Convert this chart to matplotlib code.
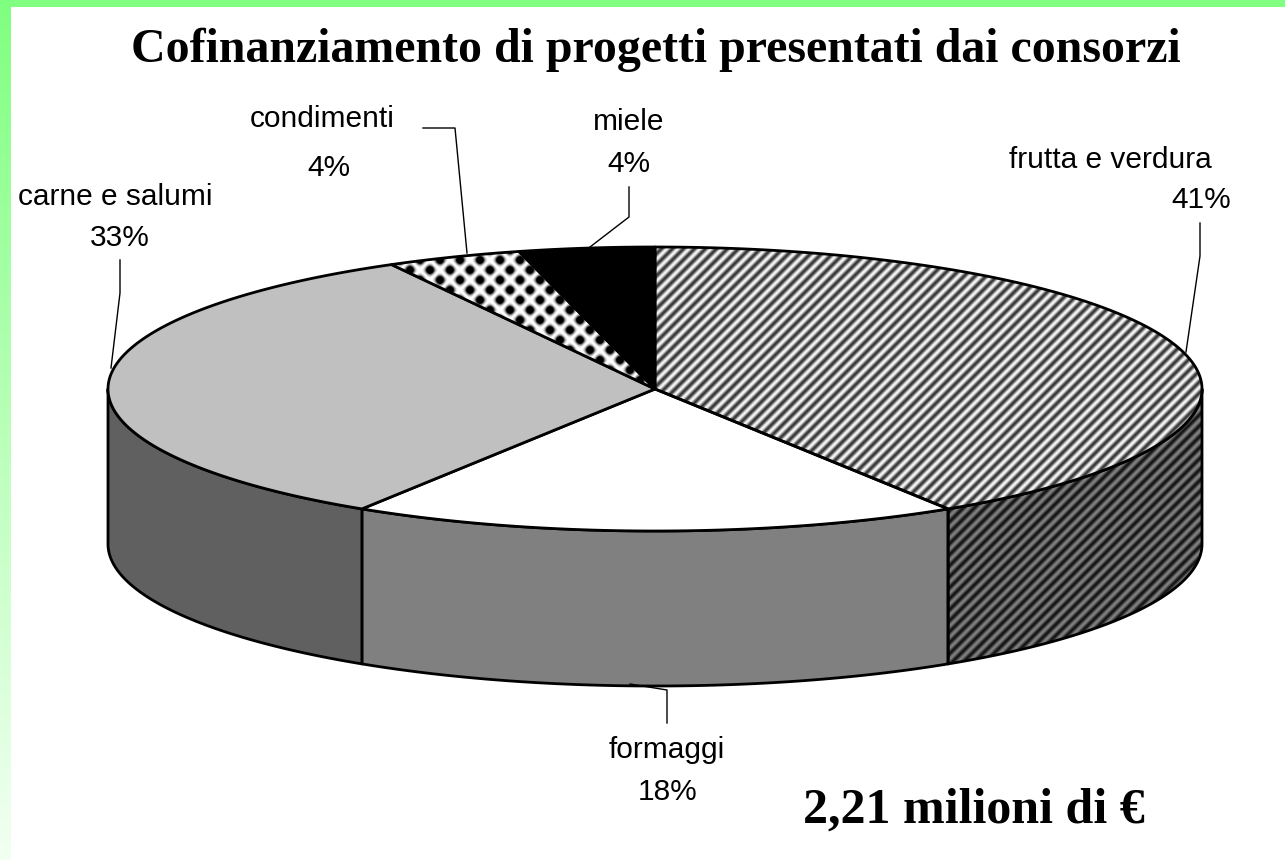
import numpy as np
import matplotlib
matplotlib.use("Agg")
import matplotlib.pyplot as plt
from matplotlib.patches import Polygon, Rectangle

W, H = 1285, 860

# data
categories = ["frutta e verdura", "formaggi", "carne e salumi", "condimenti", "miele"]
shares = [41, 18, 33, 4, 4]
pct_labels = ["41%", "18%", "33%", "4%", "4%"]
title = "Cofinanziamento di progetti presentati dai consorzi"
total_label = "2,21 milioni di \u20ac"

# pie geometry (pixels)
CX, CY = 655, 389
RX, RY = 547, 142
DEPTH = 155

fig = plt.figure(figsize=(W / 100, H / 100), dpi=100)
ax = fig.add_axes([0, 0, 1, 1])
ax.axis("off")

# green frame on top and left
ax.add_patch(Rectangle((0, 0), W, 7, color="#80ff80", lw=0, zorder=1))
grad = np.linspace(0, 1, H)
band = np.zeros((H, 1, 3))
band[:, 0, 0] = 0.50 + 0.45 * grad
band[:, 0, 1] = 1.0
band[:, 0, 2] = 0.50 + 0.45 * grad
ax.imshow(band, extent=(0, 11, H, 0), aspect="auto", zorder=1)

# textures
yy, xx = np.mgrid[0:H, 0:W] + 0.5
s = 0.5 + 0.5 * np.sin(2 * np.pi * (xx + yy) / 11)
stripes_top = 0.22 + 0.74 * s
stripes_side = 0.08 + 0.42 * s
P = 20
d = (0.5 + 0.5 * np.cos(2 * np.pi * (xx + yy) / P)) * (0.5 + 0.5 * np.cos(2 * np.pi * (xx - yy) / P))
dots_top = 1 - np.clip(d * 1.8, 0, 1)
dots_side = dots_top * 0.5

top_fill = [stripes_top, "#ffffff", "#c0c0c0", dots_top, "#000000"]
side_fill = [stripes_side, "#808080", "#606060", dots_side, "#000000"]


def arc(t0, t1, dy=0, n=300):
    t = np.radians(np.linspace(t0, t1, n))
    return np.column_stack([CX + RX * np.cos(t), CY - RY * np.sin(t) + dy])


def add_shape(pts, fill, z):
    if isinstance(fill, str):
        ax.add_patch(Polygon(pts, closed=True, facecolor=fill, edgecolor="black",
                             lw=2, joinstyle="round", zorder=z))
    else:
        clip = Polygon(pts, closed=True, facecolor="none", edgecolor="none", zorder=z)
        ax.add_patch(clip)
        im = ax.imshow(fill, extent=(0, W, H, 0), cmap="gray", vmin=0, vmax=1,
                       interpolation="nearest", aspect="auto", zorder=z)
        im.set_clip_path(clip)
        ax.add_patch(Polygon(pts, closed=True, facecolor="none", edgecolor="black",
                             lw=2, joinstyle="round", zorder=z + 0.1))


total = float(sum(shares))
cum = np.concatenate([[0], np.cumsum(shares)]) / total
starts = 90 - 360 * cum[:-1]
ends = 90 - 360 * cum[1:]

# side walls (front half only)
for i in range(len(shares)):
    hi, lo = starts[i], ends[i]
    for f_hi, f_lo in [(0, -180), (-360, -540)]:
        a, b = min(hi, f_hi), max(lo, f_lo)
        if a > b:
            top = arc(a, b)
            bot = arc(b, a, dy=DEPTH)
            add_shape(np.vstack([top, bot]), side_fill[i], 2)

# top faces
for i in range(len(shares)):
    pts = np.vstack([[[CX, CY]], arc(starts[i], ends[i]), [[CX, CY]]])
    add_shape(pts, top_fill[i], 3)

# leader lines
leaders = [
    [(1200, 223), (1200, 256), (1186, 352)],
    [(667, 723), (667, 690), (630, 684)],
    [(120, 260), (120, 293), (111, 368)],
    [(423, 128), (455, 128), (467, 253)],
    [(629, 187), (629, 217), (590, 247)],
]
for pts in leaders:
    xs, ys = zip(*pts)
    ax.plot(xs, ys, color="black", lw=1, zorder=4)

# labels
name_pos = [(1110, 160), (667, 750), (115, 197), (322, 119), (629, 122)]
pct_pos = [(1201, 200), (668, 792), (120, 238), (329, 168), (629, 164)]
for i in range(len(categories)):
    ax.text(*name_pos[i], categories[i], ha="center", va="center",
            fontsize=21.5, family="Liberation Sans", zorder=5)
    ax.text(*pct_pos[i], pct_labels[i], ha="center", va="center",
            fontsize=21.5, family="Liberation Sans", zorder=5)

ax.text(656, 50, title, ha="center", va="center", fontsize=34.5,
        family="Liberation Serif", fontweight="bold")
ax.text(974, 811, total_label, ha="center", va="center", fontsize=36,
        family="Liberation Serif", fontweight="bold")

ax.set_xlim(0, W)
ax.set_ylim(H, 0)
fig.savefig("out.png", dpi=100)
